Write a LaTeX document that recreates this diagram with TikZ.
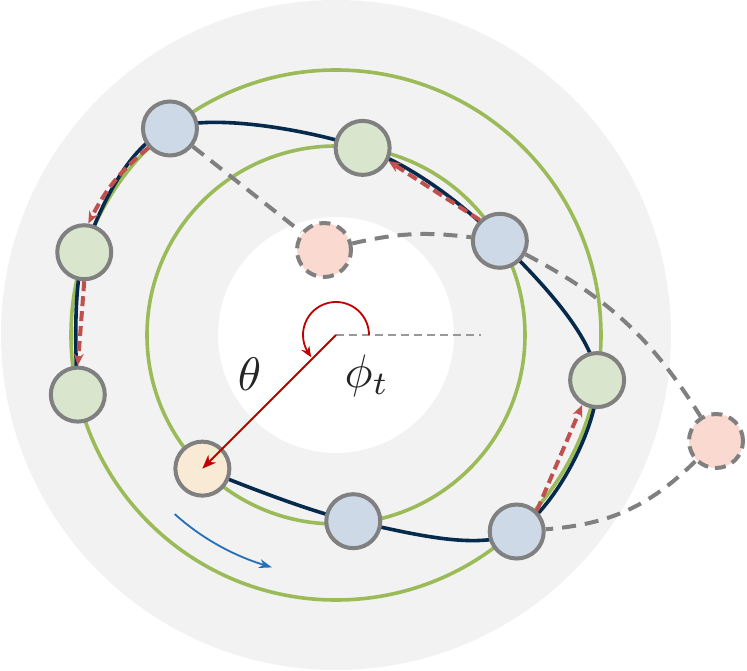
\documentclass[tikz,border=0pt]{standalone}
\usetikzlibrary{arrows.meta,bending}
\pgfdeclarelayer{back}
\pgfdeclarelayer{bg}
\pgfsetlayers{back,bg,main}
\definecolor{diskgray}{HTML}{F2F2F2}
\definecolor{ringgreen}{HTML}{9BBB59}
\definecolor{navy}{HTML}{052A4C}
\definecolor{ndgray}{HTML}{808080}
\definecolor{bluefill}{HTML}{CDD9E6}
\definecolor{greenfill}{HTML}{D9E5CC}
\definecolor{yellowfill}{HTML}{F9EAD5}
\definecolor{pinkfill}{HTML}{F9D9D0}
\definecolor{rdred}{HTML}{C0504D}
\definecolor{lnred}{HTML}{C00000}
\definecolor{arrblue}{HTML}{2370B8}
\definecolor{dashgray}{HTML}{808080}
\begin{document}
\begin{tikzpicture}[x=1pt,y=1pt,
  nd/.style={circle,draw=ndgray,line width=4pt,minimum size=54pt,inner sep=0pt},
  ghost/.style={nd,dash pattern=on 11pt off 7pt,fill=pinkfill},
  gdash/.style={draw=dashgray,line width=4pt,dash pattern=on 14pt off 9pt},
  thindash/.style={draw=dashgray!80,line width=2.2pt,dash pattern=on 8pt off 5pt},
  ring/.style={draw=ringgreen,line width=3.6pt},
  track/.style={draw=navy,line width=3.6pt},
  rdash/.style={draw=rdred,line width=4pt,dash pattern=on 10pt off 5pt,-{Stealth[length=12pt,width=10pt]}},
  redline/.style={draw=lnred,line width=1.8pt},
  label/.style={inner sep=0pt,scale=4.7,text=black!85}
]
\useasboundingbox (-336,-336) rectangle (411,335);
\coordinate (O) at (0,0);
% nodes
\node[nd,fill=bluefill]   (n1)  at (128.8:265) {};
\node[nd,fill=greenfill]  (n2)  at (81.9:189) {};
\node[ghost]              (n3)  at (-12,85) {};
\node[nd,fill=bluefill]   (n4)  at (29.9:189) {};
\node[nd,fill=greenfill]  (n5)  at (161.8:265) {};
\node[nd,fill=greenfill]  (n6)  at (193:265) {};
\node[nd,fill=greenfill]  (n7)  at (-9.8:265) {};
\node[ghost]              (n8)  at (380,-106) {};
\node[nd,fill=yellowfill] (n9)  at (225:189) {};
\node[nd,fill=bluefill]   (n10) at (-84.7:187) {};
\node[nd,fill=bluefill]   (n11) at (-47.4:267) {};

\begin{pgfonlayer}{back}
  \fill[diskgray] (O) circle[radius=335];
  \fill[white] (O) circle[radius=118];
  \draw[ring] (O) circle[radius=265];
  \draw[ring] (O) circle[radius=189];
\end{pgfonlayer}

\begin{pgfonlayer}{bg}
  \draw[gdash] (n1) -- (n3);
  \draw[gdash] (n3) to[bend left=10] (n4);
  \draw[gdash] (n4) to[bend left=15] (n8);
  \draw[gdash] (n8) to[bend left=20] (n11);
  \draw[track] plot[smooth,tension=0.55] coordinates {(n9.center) (n10.center) (n11.center) (n7.center) (n4.center) (n2.center) (n1.center) (n5.center) (n6.center)};
\end{pgfonlayer}

% red dashed moves
\draw[rdash] (n1.222) to[bend right=12] (n5.82);
\draw[rdash] (n5.270) -- (n6.90);
\draw[rdash] (n4.134) -- (n2.-27);
\draw[rdash] (n11.46) -- (n7.239);

% angle
\draw[thindash] (O) -- (145,0);
\draw[redline,-{Stealth[length=11pt,width=9pt,bend]}] (33,0) arc[start angle=0,end angle=222,radius=33];
\draw[redline,-{Stealth[length=14pt,width=11pt]}] (O) -- (n9.center);
\node[label] (th) at (-86.5,-39) {$\theta$};
\node[label] (ph) at (31,-41) {$\phi_t$};

% direction arrow
\coordinate (b1) at (228:241);
\draw[draw=arrblue,line width=1.8pt,-{Stealth[length=13pt,width=9pt,bend]}] (b1) arc[start angle=228,end angle=254.6,radius=241];
\end{tikzpicture}
\end{document}
